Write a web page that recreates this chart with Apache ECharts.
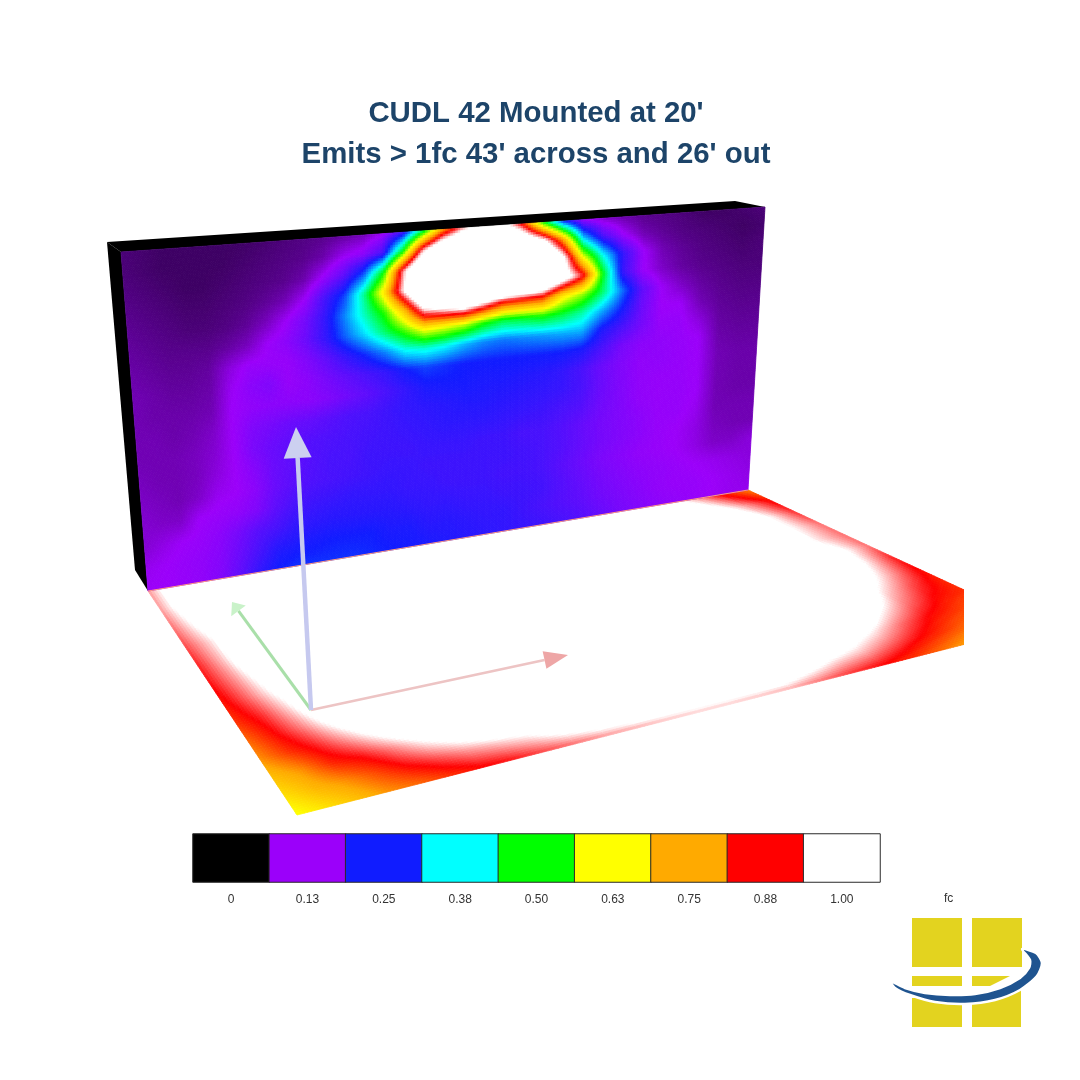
<!DOCTYPE html>
<html><head><meta charset="utf-8">
<style>html,body{margin:0;padding:0;background:#fff}#c{width:1080px;height:1080px}</style>
<script src="https://cdn.jsdelivr.net/npm/echarts@6/dist/echarts.min.js"></script>
</head><body><div id="c"></div>
<script>
const titleText = "CUDL 42 Mounted at 20'\nEmits > 1fc 43' across and 26' out";
const unitLabel = "fc";
const legendLabels = ["0","0.13","0.25","0.38","0.50","0.63","0.75","0.88","1.00"];
const scaleValues = [0,0.125,0.25,0.375,0.5,0.625,0.75,0.875,1];
const scaleColors = [[0,0,0],[155,0,250],[16,28,255],[0,255,255],[0,255,0],[255,255,0],[255,170,0],[255,0,0],[255,255,255]];

// illuminance on the wall (fc), top row first
const wallRows = [
[.06,.055,.05,.05,.05,.05,.05,.055,.06,.065,.07,.08,.09,.12,.2,.45,.75,.95,1.05,1.05,.85,.5,.25,.13,.1,.085,.07,.065,.06,.05,.05,.055,.06],
[.06,.055,.05,.05,.05,.05,.055,.06,.065,.07,.085,.12,.14,.2,.5,.95,1.2,1.3,1.4,1.4,1.2,1.05,.75,.35,.2,.13,.09,.075,.065,.06,.055,.05,.055],
[.065,.06,.055,.05,.05,.055,.06,.065,.07,.085,.13,.18,.28,.5,.95,1.3,1.4,1.5,1.5,1.5,1.4,1.3,1.05,.62,.38,.22,.13,.09,.075,.065,.06,.055,.06],
[.07,.065,.06,.055,.055,.06,.065,.075,.09,.125,.2,.27,.43,.66,1.0,1.3,1.5,1.5,1.5,1.5,1.4,1.3,1.1,.9,.5,.22,.13,.1,.08,.07,.065,.06,.06],
[.075,.07,.065,.06,.06,.065,.075,.095,.125,.16,.22,.31,.41,.52,.72,1.0,1.05,1.1,1.0,.88,.86,.84,.66,.58,.45,.3,.18,.125,.1,.08,.07,.065,.065],
[.08,.075,.07,.07,.07,.08,.095,.125,.14,.17,.22,.29,.36,.45,.54,.65,.63,.6,.52,.47,.48,.5,.47,.42,.33,.25,.17,.125,.125,.09,.075,.07,.07],
[.085,.08,.075,.075,.08,.11,.13,.13,.13,.15,.18,.22,.26,.31,.38,.4,.38,.34,.31,.3,.31,.32,.33,.33,.24,.2,.16,.13,.13,.11,.08,.075,.075],
[.09,.085,.08,.08,.085,.12,.14,.15,.13,.14,.16,.18,.2,.22,.25,.27,.26,.25,.25,.25,.25,.25,.25,.24,.2,.16,.14,.135,.13,.125,.085,.08,.08],
[.09,.085,.085,.085,.09,.125,.135,.14,.14,.14,.15,.165,.18,.2,.22,.24,.245,.245,.24,.24,.235,.23,.22,.2,.17,.15,.135,.135,.13,.125,.09,.085,.085],
[.09,.09,.085,.09,.1,.125,.15,.16,.17,.175,.185,.195,.2,.21,.22,.225,.23,.235,.235,.23,.225,.22,.215,.2,.17,.15,.135,.13,.13,.125,.09,.085,.085],
[.09,.09,.09,.095,.105,.125,.155,.17,.18,.19,.195,.2,.205,.21,.215,.22,.225,.225,.225,.22,.215,.21,.2,.19,.165,.15,.135,.13,.13,.125,.09,.085,.085],
[.095,.09,.09,.095,.11,.125,.145,.17,.18,.19,.2,.2,.21,.21,.21,.215,.215,.215,.21,.21,.2,.2,.19,.175,.16,.15,.14,.13,.13,.12,.09,.09,.09],
[.1,.095,.09,.1,.12,.125,.14,.17,.185,.195,.2,.205,.21,.215,.215,.21,.21,.21,.21,.21,.205,.2,.19,.175,.16,.15,.14,.13,.125,.115,.095,.09,.09],
[.105,.1,.1,.125,.13,.135,.15,.18,.2,.21,.215,.22,.22,.22,.215,.215,.21,.21,.21,.205,.205,.2,.185,.17,.155,.145,.135,.13,.125,.115,.1,.1,.11],
[.105,.115,.125,.13,.14,.16,.185,.2,.22,.225,.23,.23,.23,.23,.225,.22,.22,.215,.215,.21,.21,.205,.19,.175,.16,.15,.14,.135,.13,.125,.12,.115,.11],
[.12,.125,.13,.135,.145,.17,.2,.23,.24,.245,.25,.25,.25,.24,.24,.23,.23,.225,.22,.22,.21,.2,.19,.18,.165,.155,.145,.135,.13,.13,.125,.12,.115],
[.125,.125,.13,.135,.15,.18,.22,.25,.26,.26,.26,.26,.255,.25,.245,.24,.235,.23,.225,.22,.215,.21,.2,.19,.175,.16,.15,.14,.135,.13,.125,.12,.12]
];

// illuminance on the floor (fc), row next to the wall first
const floorRows = [
[.95,1.05,1.1,1.1,1.1,1.1,1.1,1.1,1.1,1.1,1.1,1.1,1.1,1.1,1.1,1.1,1.1,1.1,1.1,1.1,1.1,1.02,.95,.86,.78],
[.95,1.05,1.1,1.1,1.1,1.1,1.1,1.1,1.1,1.1,1.1,1.1,1.1,1.1,1.1,1.1,1.1,1.1,1.1,1.1,1.1,1.1,1.03,.95,.87],
[.93,1.02,1.1,1.1,1.1,1.1,1.1,1.1,1.1,1.1,1.1,1.1,1.1,1.1,1.1,1.1,1.1,1.1,1.1,1.1,1.1,1.1,1.1,1.0,.9],
[.91,.985,1.1,1.1,1.1,1.1,1.1,1.1,1.1,1.1,1.1,1.1,1.1,1.1,1.1,1.1,1.1,1.1,1.1,1.1,1.1,1.1,1.1,1.0,.93],
[.89,.975,1.1,1.1,1.1,1.1,1.1,1.1,1.1,1.1,1.1,1.1,1.1,1.1,1.1,1.1,1.1,1.1,1.1,1.1,1.1,1.1,1.1,.99,.93],
[.88,.955,1.05,1.1,1.1,1.1,1.1,1.1,1.1,1.1,1.1,1.1,1.1,1.1,1.1,1.1,1.1,1.1,1.1,1.1,1.1,1.1,1.1,1.02,.93],
[.86,.935,1.02,1.1,1.1,1.1,1.1,1.1,1.1,1.1,1.1,1.1,1.1,1.1,1.1,1.1,1.1,1.1,1.1,1.1,1.1,1.1,1.1,1.0,.89],
[.84,.9,.985,1.1,1.1,1.1,1.1,1.1,1.1,1.1,1.1,1.1,1.1,1.1,1.1,1.1,1.1,1.1,1.1,1.1,1.1,1.1,1.05,.96,.87],
[.8,.875,.945,1.03,1.1,1.1,1.1,1.1,1.1,1.1,1.1,1.1,1.1,1.1,1.1,1.1,1.1,1.1,1.1,1.1,1.1,1.1,.985,.91,.85],
[.77,.84,.895,.96,1.03,1.1,1.1,1.1,1.1,1.1,1.1,1.1,1.1,1.1,1.1,1.1,1.1,1.1,1.1,1.1,1.1,1.01,.93,.87,.84],
[.72,.77,.85,.885,.94,1.0,1.05,1.1,1.1,1.1,1.1,1.1,1.1,1.1,1.1,1.1,1.1,1.1,1.1,1.05,1.0,.93,.87,.83,.78],
[.67,.73,.77,.82,.875,.914,.95,.975,1.0,1.05,1.08,1.1,1.1,1.1,1.1,1.1,1.1,1.05,1.0,.97,.92,.87,.82,.77,.74],
[.62,.67,.72,.77,.8,.84,.87,.885,.91,.93,.95,.96,.97,.975,.975,.97,.96,.93,.9,.875,.84,.79,.74,.7,.66]
];

// picture-plane corners of the two surfaces and the box behind the wall
const wallCorners = [[121,252],[765,207],[748,490],[148,591]];
const floorCorners = [[148,591],[748,490],[1040,625],[297,815]];
const boxFaces = [
  [[107,242],[735,201],[765,207],[121,252]],
  [[107,242],[121,252],[148,591],[135,570]]
];
const floorSeam = [[148,591],[748,490]];
// axis triad: start, tip, half width of head, head length, shaft colour, head colour
const triad = [
  {from:[311,710], to:[568,655], color:'#edc4c4', head:'#eea6a6', w:9, len:24, lw:2.5},
  {from:[311,710], to:[232,602], color:'#a9dfa9', head:'#c9f2c9', w:9, len:11, lw:3},
  {from:[311,710], to:[296,427], color:'#c6c9ef', head:'#ccd0f0', w:14, len:31, lw:4.5}
];

function colorOf(v){
  const n = scaleValues.length;
  if (v >= scaleValues[n-1]) return 'rgb(255,255,255)';
  if (v <= 0) return 'rgb(0,0,0)';
  for (let k=1;k<n;k++){
    if (v <= scaleValues[k]){
      const t=(v-scaleValues[k-1])/(scaleValues[k]-scaleValues[k-1]);
      const a=scaleColors[k-1], b=scaleColors[k];
      return 'rgb('+Math.round(a[0]+(b[0]-a[0])*t)+','+Math.round(a[1]+(b[1]-a[1])*t)+','+Math.round(a[2]+(b[2]-a[2])*t)+')';
    }
  }
  return 'rgb(255,255,255)';
}
function place(c,u,v){
  return [
    c[0][0]*(1-u)*(1-v)+c[1][0]*u*(1-v)+c[2][0]*u*v+c[3][0]*(1-u)*v,
    c[0][1]*(1-u)*(1-v)+c[1][1]*u*(1-v)+c[2][1]*u*v+c[3][1]*(1-u)*v
  ];
}
function cellsOf(rows){
  const out=[];
  for(let j=0;j<rows.length-1;j++) for(let i=0;i<rows[j].length-1;i++)
    out.push([i,j,rows[j][i],rows[j][i+1],rows[j+1][i],rows[j+1][i+1]]);
  return out;
}
// each cell is shaded between its four corner readings, like the source's smooth shading
function surfaceRenderer(rows,corners,sub){
  const nu=rows[0].length-1, nv=rows.length-1;
  return function(params,api){
    const i=api.value(0), j=api.value(1);
    const a=api.value(2), b=api.value(3), c=api.value(4), d=api.value(5);
    const kids=[];
    const uniform=(a>=1&&b>=1&&c>=1&&d>=1);
    const n=uniform?1:sub;
    for(let q=0;q<n;q++) for(let p=0;p<n;p++){
      const s=(p+.5)/n, t=(q+.5)/n;
      const val=a*(1-s)*(1-t)+b*s*(1-t)+c*(1-s)*t+d*s*t;
      const fill=colorOf(val);
      const pts=[[p,q],[p+1,q],[p+1,q+1],[p,q+1]].map(function(o){
        return api.coord(place(corners,(i+o[0]/n)/nu,(j+o[1]/n)/nv));
      });
      kids.push({type:'polygon',shape:{points:pts},style:{fill:fill,stroke:fill,lineWidth:0.8}});
    }
    return {type:'group',silent:true,children:kids};
  };
}
function polyItem(points,fill,api){
  return {type:'polygon',silent:true,shape:{points:points.map(function(p){return api.coord(p);})},style:{fill:fill}};
}
const hiddenX=function(idx,max){return {type:'value',gridIndex:idx,min:0,max:max,show:false};};
const hiddenY=function(idx){return {type:'value',gridIndex:idx,min:0,max:1080,inverse:true,show:false};};

const option={
  backgroundColor:'#ffffff',
  animation:false,
  title:{text:titleText,left:536,top:93,textAlign:'center',padding:0,
    textStyle:{fontFamily:'Liberation Sans',fontSize:29.4,fontWeight:'bold',lineHeight:41,color:'#1d4469'}},
  grid:[
    {left:0,top:0,width:1080,height:1080},
    {left:0,top:0,width:964,height:1080},
    {left:193,top:834,width:687,height:48}
  ],
  xAxis:[hiddenX(0,1080),hiddenX(1,964),
    {type:'category',gridIndex:2,data:legendLabels,axisLine:{show:false},axisTick:{show:false},splitLine:{show:false},
     axisLabel:{margin:12,fontSize:12,color:'#333',fontFamily:'Liberation Sans'}}],
  yAxis:[hiddenY(0),hiddenY(1),
    {type:'category',gridIndex:2,data:[''],show:false}],
  series:[
    {type:'custom',name:'box',xAxisIndex:0,yAxisIndex:0,z:1,silent:true,
     data:boxFaces.map(function(f,k){return [k];}),
     renderItem:function(params,api){return polyItem(boxFaces[api.value(0)],'#000',api);}},
    {type:'custom',name:'floor',xAxisIndex:1,yAxisIndex:1,z:2,clip:true,silent:true,progressive:0,
     data:cellsOf(floorRows),renderItem:surfaceRenderer(floorRows,floorCorners,9)},
    {type:'custom',name:'wall',xAxisIndex:0,yAxisIndex:0,z:3,silent:true,progressive:0,
     data:cellsOf(wallRows),renderItem:surfaceRenderer(wallRows,wallCorners,8)},
    {type:'line',name:'seam',xAxisIndex:0,yAxisIndex:0,z:4,silent:true,symbol:'none',data:floorSeam,
     lineStyle:{color:'#ff9a80',width:1}},
    {type:'custom',name:'triad',xAxisIndex:0,yAxisIndex:0,z:5,silent:true,
     data:triad.map(function(t,k){return [k];}),
     renderItem:function(params,api){
       const t=triad[api.value(0)];
       const dx=t.to[0]-t.from[0], dy=t.to[1]-t.from[1], L=Math.hypot(dx,dy);
       const ux=dx/L, uy=dy/L;
       const bx=t.to[0]-ux*t.len, by=t.to[1]-uy*t.len;
       const a=api.coord(t.from), b=api.coord([bx,by]);
       return {type:'group',silent:true,children:[
         {type:'line',shape:{x1:a[0],y1:a[1],x2:b[0],y2:b[1]},style:{stroke:t.color,lineWidth:t.lw}},
         polyItem([t.to,[bx-uy*t.w,by+ux*t.w],[bx+uy*t.w,by-ux*t.w]],t.head,api)
       ]};
     }},
    {type:'heatmap',name:'legend',xAxisIndex:2,yAxisIndex:2,z:3,silent:true,
     data:legendLabels.map(function(l,k){
       const c=scaleColors[k];
       return {value:[k,0,scaleValues[k]],itemStyle:{color:'rgb('+c.join(',')+')',borderColor:'#2a2a2a',borderWidth:1}};
     }),
     label:{show:false},emphasis:{disabled:true}}
  ],
  graphic:[
    {type:'text',left:944,top:893,z:10,style:{text:unitLabel,fontSize:12,fill:'#333',fontFamily:'Liberation Sans'}},
    {type:'rect',z:10,shape:{x:912,y:918,width:50,height:49},style:{fill:'#e3d31f'}},
    {type:'rect',z:10,shape:{x:972,y:918,width:50,height:49},style:{fill:'#e3d31f'}},
    {type:'rect',z:10,shape:{x:912,y:976,width:50,height:10},style:{fill:'#e3d31f'}},
    {type:'polygon',z:10,shape:{points:[[972,976],[1010,976],[990,986],[972,986]]},style:{fill:'#e3d31f'}},
    {type:'rect',z:10,shape:{x:912,y:998,width:50,height:29},style:{fill:'#e3d31f'}},
    {type:'polygon',z:10,shape:{points:[[972,1002],[1021,990],[1021,1027],[972,1027]]},style:{fill:'#e3d31f'}},
    {type:'polygon',z:11,shape:{smooth:0.25,points:[[890,981],[905,988],[925,993],[950,995],[975,994],[1000,988],[1020,978],[1029,968],[1030,960],[1022,949],[1036,953],[1042,963],[1037,976],[1020,990],[995,1000],[965,1004],[935,1002],[910,995],[895,988]]},
     style:{fill:'#1f5490',stroke:'#ffffff',lineWidth:2.5}}
  ]
};
echarts.init(document.getElementById('c'),null,{renderer:'canvas'}).setOption(option);
</script>
</body></html>
